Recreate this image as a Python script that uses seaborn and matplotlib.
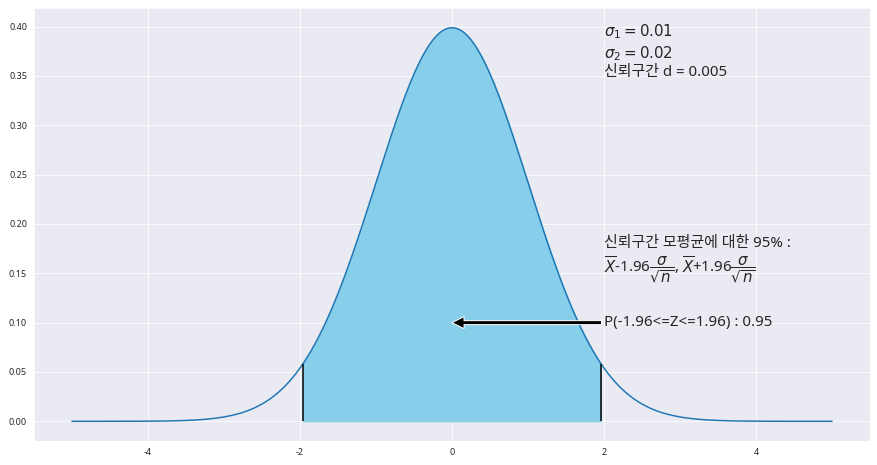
import numpy as np
import matplotlib
matplotlib.use('Agg')
import matplotlib.pyplot as plt
import seaborn as sns

# normal curve parameters
mu = 0.0
sd = 1.0
x_min, x_max = -5, 5
n_points = 201
z_low, z_high = -1.96, 1.96
arrow_y = 0.10
prob_label = 'P(-1.96<=Z<=1.96) : 0.95'
info_text = '$\\sigma_1 = 0.01$\n$\\sigma_2 = 0.02$\n신뢰구간 d = 0.005'
ci_text = ('신뢰구간 모평균에 대한 95% :\n'
           '$\\overline{X}$-1.96$\\dfrac{\\sigma}{\\sqrt{n}}$, '
           '$\\overline{X}$+1.96$\\dfrac{\\sigma}{\\sqrt{n}}$')

x = np.linspace(x_min, x_max, n_points)
pdf = np.exp(-0.5 * ((x - mu) / sd) ** 2) / (sd * np.sqrt(2 * np.pi))

sns.set_style('darkgrid')
plt.rcParams['font.family'] = ['Noto Sans', 'Noto Sans CJK KR', 'DejaVu Sans']
plt.rcParams['axes.unicode_minus'] = False

fig = plt.figure(figsize=(877 / 72, 465 / 72), dpi=72)
ax = fig.add_axes([34 / 877, 24 / 465, 836 / 877, 433 / 465])

sns.lineplot(x=x, y=pdf, ax=ax, color='#1f77b4')

mask = (x >= z_low) & (x <= z_high)
x_fill = np.concatenate([[z_low], x[mask], [z_high]])
pdf_fill = np.exp(-0.5 * ((x_fill - mu) / sd) ** 2) / (sd * np.sqrt(2 * np.pi))
ax.fill_between(x_fill, pdf_fill, color='skyblue')
ax.vlines([z_low, z_high], 0, np.exp(-0.5 * np.array([z_low, z_high]) ** 2) / np.sqrt(2 * np.pi),
          color='black')

ax.annotate(prob_label, xy=(0, arrow_y), xytext=(2, arrow_y),
            arrowprops=dict(facecolor='black'), fontsize=15, va='center')
ax.text(2, 0.35, info_text, fontsize=15)
ax.text(2, 0.152, ci_text, fontsize=15)

ax.tick_params(labelsize=9)
fig.savefig('out.png', dpi=72)
